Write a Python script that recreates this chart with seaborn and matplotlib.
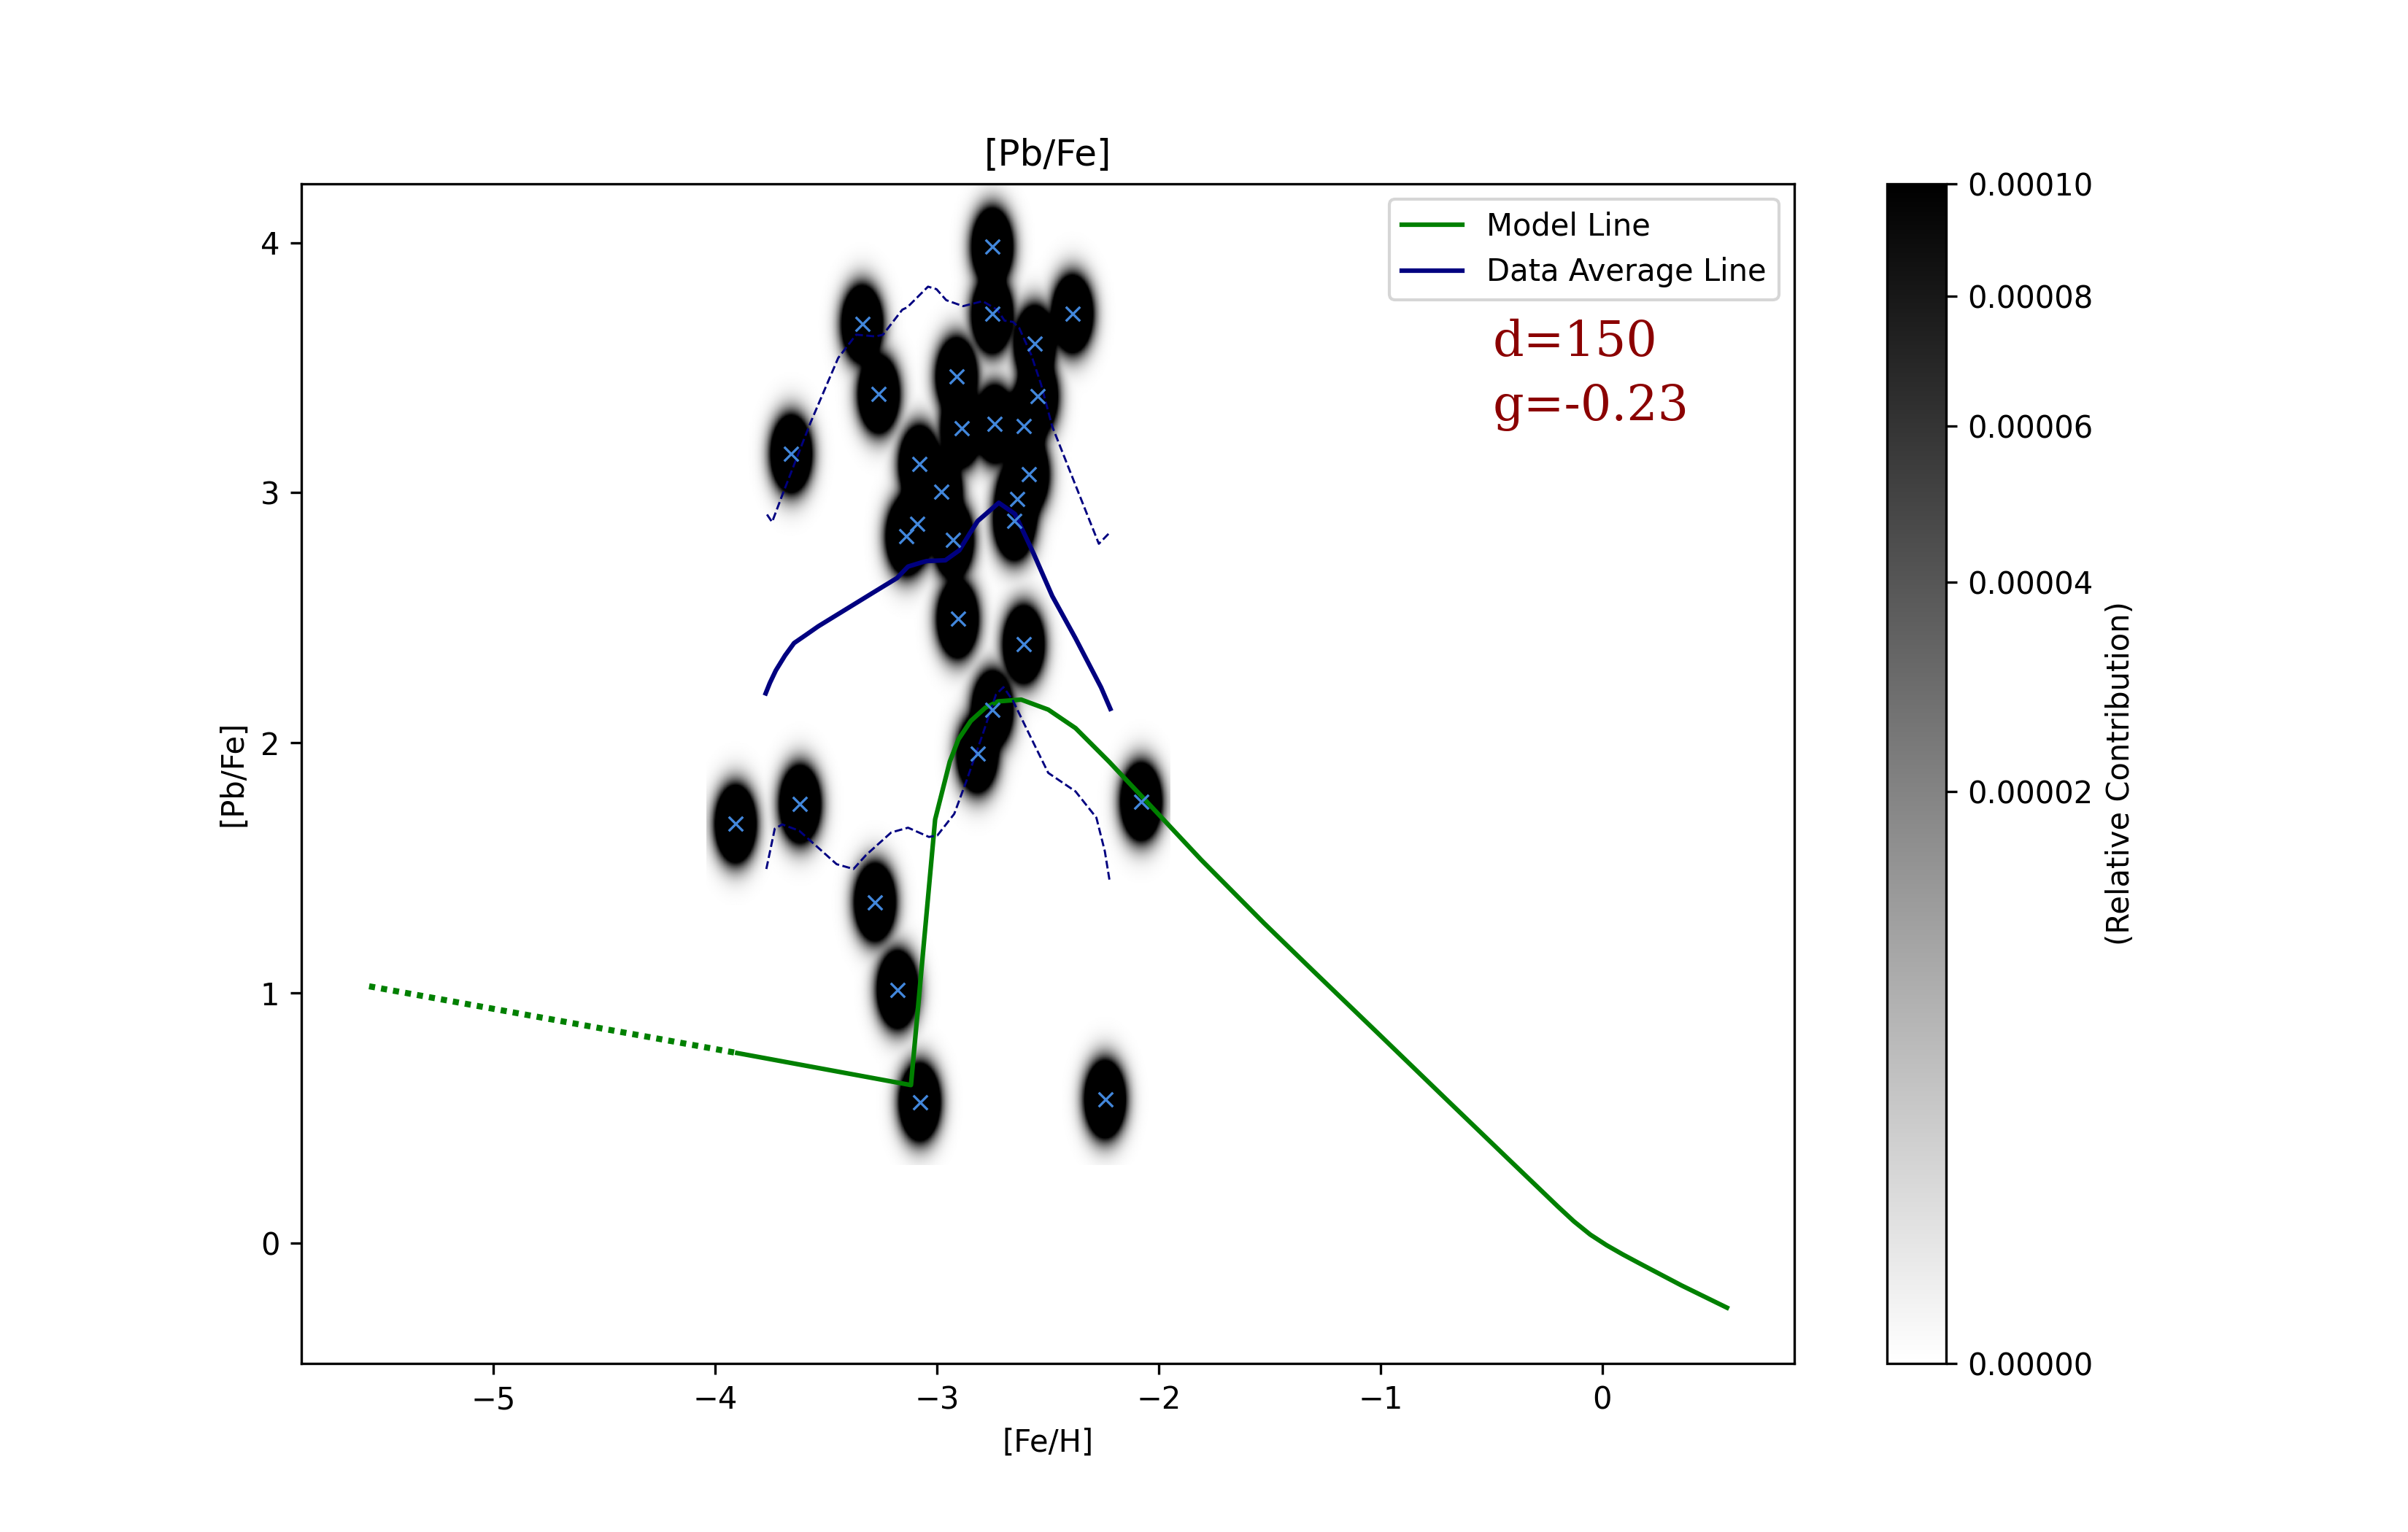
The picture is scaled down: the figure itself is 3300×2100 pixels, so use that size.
import numpy as np
import pandas as pd
import matplotlib
matplotlib.use('Agg')
import matplotlib.pyplot as plt
import matplotlib.colors as mcolors
from matplotlib.ticker import FormatStrFormatter
import seaborn as sns

# Star measurements ([Fe/H], [Pb/Fe])
fe_h = [-2.750, -3.337, -2.750, -2.388, -2.558, -3.262, -2.911, -2.547, -2.889, -2.739,
        -2.607, -3.657, -3.078, -2.587, -2.979, -2.638, -3.089, -3.137, -2.927, -2.650,
        -2.906, -2.608, -2.749, -2.817, -2.078, -3.617, -3.908, -3.279, -3.177, -3.077,
        -2.241]
pb_fe = [3.985, 3.676, 3.715, 3.717, 3.595, 3.396, 3.466, 3.386, 3.258, 3.276,
         3.267, 3.157, 3.114, 3.074, 3.003, 2.976, 2.877, 2.826, 2.813, 2.887,
         2.496, 2.394, 2.133, 1.957, 1.765, 1.755, 1.676, 1.363, 1.013, 0.563,
         0.574]

# Model curve (dotted where it runs below the lowest observed [Fe/H])
model_x = [-5.560, -3.900, -3.117, -3.008, -2.942, -2.903, -2.847, -2.781, -2.724, -2.620,
           -2.498, -2.375, -2.224, -2.073, -1.809, -1.525, -1.303, -1.009, -0.715, -0.421,
           -0.275, -0.201, -0.128, -0.054, 0.019, 0.092, 0.166, 0.357, 0.562]
model_y = [1.027, 0.760, 0.632, 1.694, 1.925, 2.014, 2.088, 2.141, 2.166, 2.173,
           2.133, 2.059, 1.925, 1.783, 1.533, 1.279, 1.088, 0.837, 0.585, 0.334,
           0.210, 0.147, 0.087, 0.034, -0.008, -0.045, -0.080, -0.169, -0.258]
model_cut = -3.900

# Running average of the data and its upper/lower envelopes
avg_x = [-3.772, -3.753, -3.726, -3.685, -3.644, -3.590, -3.535, -3.412, -3.289, -3.180,
         -3.130, -3.071, -3.046, -2.962, -2.899, -2.850, -2.816, -2.721, -2.648, -2.564,
         -2.480, -2.375, -2.260, -2.218]
avg_y = [2.198, 2.240, 2.290, 2.349, 2.399, 2.432, 2.466, 2.533, 2.600, 2.659,
         2.705, 2.721, 2.727, 2.730, 2.770, 2.840, 2.887, 2.960, 2.915, 2.757,
         2.587, 2.418, 2.222, 2.136]

upper_x = [-3.766, -3.743, -3.697, -3.571, -3.445, -3.364, -3.276, -3.243, -3.156, -3.134,
           -3.040, -3.002, -2.958, -2.882, -2.794, -2.728, -2.695, -2.657, -2.629, -2.575,
           -2.531, -2.480, -2.375, -2.270, -2.225]
upper_y = [2.913, 2.883, 2.991, 3.278, 3.539, 3.632, 3.625, 3.632, 3.732, 3.741,
           3.824, 3.814, 3.770, 3.746, 3.766, 3.732, 3.688, 3.683, 3.659, 3.552,
           3.435, 3.265, 3.030, 2.796, 2.837]

lower_x = [-3.769, -3.731, -3.697, -3.621, -3.452, -3.376, -3.319, -3.206, -3.130, -3.036,
           -2.998, -2.922, -2.866, -2.790, -2.734, -2.700, -2.658, -2.564, -2.498, -2.375,
           -2.281, -2.243, -2.220]
lower_y = [1.496, 1.657, 1.674, 1.649, 1.515, 1.496, 1.552, 1.642, 1.661, 1.624,
           1.630, 1.716, 1.850, 2.044, 2.193, 2.223, 2.170, 1.999, 1.880, 1.806,
           1.701, 1.567, 1.441]

d_value = 150
g_value = -0.23

# Density map settings
sig_x, sig_y = 0.0345, 0.058
peak = 3.5e-3
pad_x, pad_y = 0.13, 0.25

stars = pd.DataFrame({'FeH': fe_h, 'PbFe': pb_fe})
model = pd.DataFrame({'x': model_x, 'y': model_y})

gx = np.linspace(min(fe_h) - pad_x, max(fe_h) + pad_x, 500)
gy = np.linspace(min(pb_fe) - pad_y, max(pb_fe) + pad_y, 800)
GX, GY = np.meshgrid(gx, gy)
density = np.zeros_like(GX)
for xs, ys in zip(fe_h, pb_fe):
    density += peak * np.exp(-0.5 * (((GX - xs) / sig_x) ** 2 + ((GY - ys) / sig_y) ** 2))

fig, ax = plt.subplots(figsize=(11, 7), dpi=300)

norm = mcolors.PowerNorm(gamma=0.45, vmin=0, vmax=1e-4)
im = ax.imshow(density, origin='lower', aspect='auto', cmap='gray_r', norm=norm,
               extent=[gx[0], gx[-1], gy[0], gy[-1]])

sns.scatterplot(data=stars, x='FeH', y='PbFe', marker='x', color='#4287dc',
                s=22, linewidth=0.8, ax=ax, legend=False, zorder=3)

sns.lineplot(data=model[model['x'] <= model_cut], x='x', y='y', color='green',
             linestyle=(0, (1, 1)), linewidth=2.0, estimator=None, sort=False, ax=ax)
sns.lineplot(data=model[model['x'] >= model_cut], x='x', y='y', color='green',
             linewidth=1.5, estimator=None, sort=False, ax=ax, label='Model Line')
sns.lineplot(x=avg_x, y=avg_y, color='navy', linewidth=1.5, estimator=None,
             sort=False, ax=ax, label='Data Average Line')
sns.lineplot(x=upper_x, y=upper_y, color='navy', linestyle='--', linewidth=0.7,
             estimator=None, sort=False, ax=ax)
sns.lineplot(x=lower_x, y=lower_y, color='navy', linestyle='--', linewidth=0.7,
             estimator=None, sort=False, ax=ax)

ax.text(0.798, 0.886, f'd={d_value}\ng={g_value}', transform=ax.transAxes,
        family='DejaVu Serif', fontsize=16, linespacing=1.45, color='darkred',
        va='top', ha='left')

ax.set_xlim(-5.867, 0.864)
ax.set_ylim(-0.481, 4.235)
ax.set_title('[Pb/Fe]')
ax.set_xlabel('[Fe/H]')
ax.set_ylabel('[Pb/Fe]')
ax.legend(loc='upper right')

cbar = fig.colorbar(im, ax=ax)
cbar.set_ticks([0, 2e-5, 4e-5, 6e-5, 8e-5, 1e-4])
cbar.ax.yaxis.set_major_formatter(FormatStrFormatter('%.5f'))
cbar.set_label('(Relative Contribution)')

fig.savefig('out.png', dpi=300)
